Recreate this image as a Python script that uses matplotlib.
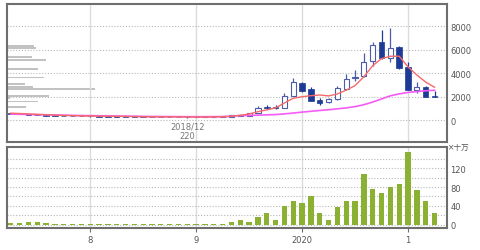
import numpy as np
import pandas as pd
import matplotlib
matplotlib.use("Agg")
import matplotlib.pyplot as plt

# ---------------- data ----------------
months = pd.period_range("2017-04", "2021-04", freq="M")

open_ = [580, 540, 500, 470, 430, 390, 370, 350, 340,
         330, 320, 310, 300, 295, 290, 280, 275, 270, 265, 260, 250,
         240, 260, 270, 285, 280, 390, 350, 620, 1130, 1100, 1080, 2100,
         3200, 2700, 1700, 1540, 1800, 2700, 3620, 3750, 5070, 6640, 5280, 6200,
         4500, 2600, 2860, 2050]
high = [620, 570, 560, 500, 450, 410, 390, 370, 360,
        360, 340, 330, 320, 310, 300, 295, 290, 285, 280, 270, 260,
        270, 280, 300, 320, 480, 450, 620, 1220, 1300, 1280, 2300, 3600,
        3280, 2850, 1880, 1900, 2950, 3950, 4280, 5700, 6690, 7690, 7860, 6300,
        4940, 3230, 2900, 2520]
low = [520, 490, 460, 420, 380, 360, 340, 330, 320,
       310, 300, 290, 280, 280, 270, 265, 260, 255, 250, 240, 220,
       235, 250, 260, 275, 260, 370, 330, 600, 990, 990, 1030, 2050,
       2400, 1600, 1300, 1450, 1750, 2600, 3300, 3700, 4650, 5200, 4940, 4350,
       2550, 2350, 1950, 2000]
close = [540, 500, 470, 430, 390, 370, 350, 340, 330,
         320, 310, 300, 295, 290, 280, 275, 270, 265, 260, 250, 240,
         260, 270, 285, 300, 460, 420, 590, 1070, 1080, 1060, 2090, 3230,
         2520, 1620, 1480, 1800, 2720, 3500, 3700, 4990, 6410, 5280, 6150, 4430,
         2600, 2860, 2000, 2010]
volume = [4, 2.5, 6, 5, 3.5, 1.5, 1.5, 1.5, 2,
          2, 1.5, 2, 1, 1, 1, 1, 1, 0.8, 0.8, 0.8, 2,
          0.8, 0.8, 0.8, 0.8, 5.5, 9, 6, 16, 25, 10, 39, 50,
          46, 62, 24, 10, 38, 50, 50, 108, 75, 68, 81, 86,
          154, 74, 51, 24]
ma_short = [600, 570, 540, 500, 470, 440, 410, 390, 370,
            360, 350, 340, 330, 320, 310, 300, 295, 290, 285, 280, 275,
            270, 270, 275, 300, 340, 420, 530, 730, 880, 1050, 1470, 1870,
            2000, 2090, 2150, 2070, 2240, 2560, 2950, 3700, 4650, 5250, 5450, 5450,
            4550, 3850, 3250, 2810]
ma_long = [520, 505, 490, 475, 460, 445, 430, 415, 400,
           390, 380, 370, 360, 350, 340, 330, 320, 315, 310, 305, 300,
           300, 300, 305, 310, 330, 395, 410, 430, 455, 480, 540, 610,
           690, 760, 830, 890, 970, 1050, 1160, 1320, 1550, 1810, 2080, 2240,
           2370, 2440, 2510, 2550]
profile_price = [6350, 6130, 5360, 5110, 4370, 3640, 3115, 2860, 2640,
                 2095, 1870, 1585, 1105]
profile_volume = [27, 29, 25, 39, 31, 37, 18, 26, 88, 42, 3, 31, 19]

year_ticks = ["2018-01", "2019-01", "2020-01", "2021-01"]
year_labels = ["8", "9", "2020", "1"]
price_ticks = [0, 2000, 4000, 6000, 8000]
volume_ticks = [0, 40, 80, 120]
unit_label = "×十万"
min_label = "2018/12\n220"

# ---------------- figure ----------------
W, H = 480, 251
fig = plt.figure(figsize=(W / 100, H / 100), dpi=100)
fig.patch.set_facecolor("white")

def frac(x0, y0, x1, y1):
    return [x0 / W, 1 - y1 / H, (x1 - x0) / W, (y1 - y0) / H]

ax = fig.add_axes(frac(6.5, 5, 446.7, 142.7))
axv = fig.add_axes(frac(6.5, 148.3, 446.7, 229.3))

x = np.arange(len(months))
year_idx = [list(months.astype(str)).index(m) for m in year_ticks]
xlim = (-0.48, 49.38)

spine_col = "#6e6e6e"
label_col = "#555555"
grid_col = "#b8b8b8"
bull_edge = "#4c5cab"
bear_col = "#1d3b94"

for a in (ax, axv):
    a.set_xlim(*xlim)
    for s in a.spines.values():
        s.set_color(spine_col)
        s.set_linewidth(1.5)
    for xi in year_idx:
        a.axvline(xi, color="#dcdcdc", lw=1, zorder=0)
    a.yaxis.tick_right()
    a.tick_params(axis="y", length=0, pad=2.5, labelsize=6, labelcolor=label_col)

# ---- price profile (behind) ----
axp = ax.twiny()
axp.barh(profile_price, profile_volume, height=150, color="#c2c2c2", zorder=1)
axp.set_xlim(0, 440)
axp.set_ylim(-1830, 9900)
axp.axis("off")
ax.set_zorder(axp.get_zorder() + 1)
ax.patch.set_visible(False)

# ---- price panel ----
ax.set_ylim(-1830, 9900)
ax.set_yticks(price_ticks)
ax.set_xticks(year_idx)
ax.tick_params(axis="x", length=0, labelbottom=False)
for t in price_ticks:
    ax.axhline(t, color=grid_col, lw=0.8, ls=(0, (1, 1.6)), zorder=0)

o = np.array(open_, float)
c = np.array(close, float)
hi = np.array(high, float)
lo = np.array(low, float)
bull = c >= o
ax.vlines(x[bull], lo[bull], hi[bull], color=bull_edge, lw=0.9, zorder=2)
ax.vlines(x[~bull], lo[~bull], hi[~bull], color=bear_col, lw=0.9, zorder=2)
bottom = np.minimum(o, c)
height = np.maximum(np.abs(c - o), 45)
ax.bar(x[bull], height[bull], bottom=bottom[bull], width=0.58,
       facecolor="white", edgecolor=bull_edge, linewidth=0.8, zorder=3)
ax.bar(x[~bull], height[~bull], bottom=bottom[~bull], width=0.62,
       facecolor=bear_col, edgecolor=bear_col, linewidth=0.5, zorder=3)

ax.plot(x, ma_long, color="#f55cf5", lw=1.2, zorder=4)
ax.plot(x, ma_short, color="#f56a6a", lw=1.0, zorder=4)

imin = int(np.argmin(lo))
ax.annotate(min_label, xy=(x[imin], lo[imin]), xytext=(0, -9.6),
            textcoords="offset points", ha="center", va="center",
            fontsize=6, color="#777777", linespacing=1.15, zorder=5)

# ---- volume panel ----
axv.bar(x, volume, width=0.6, color="#8ab131", zorder=3)
axv.set_ylim(-8, 165)
axv.set_yticks(volume_ticks)
for t in range(0, 160, 20):
    axv.axhline(t, color=grid_col, lw=0.8, ls=(0, (1, 1.6)), zorder=0)
axv.set_xticks(year_idx)
axv.set_xticklabels(year_labels)
axv.tick_params(axis="x", length=3, width=0.8, color=spine_col, pad=2,
                labelsize=6, labelcolor=label_col)

fig.text(448 / W, 1 - 147.5 / H, unit_label, fontsize=5.5, color=label_col,
         ha="left", va="center", family=["DejaVu Sans", "Noto Sans CJK JP"])

fig.savefig("out.png", dpi=100, facecolor="white")
